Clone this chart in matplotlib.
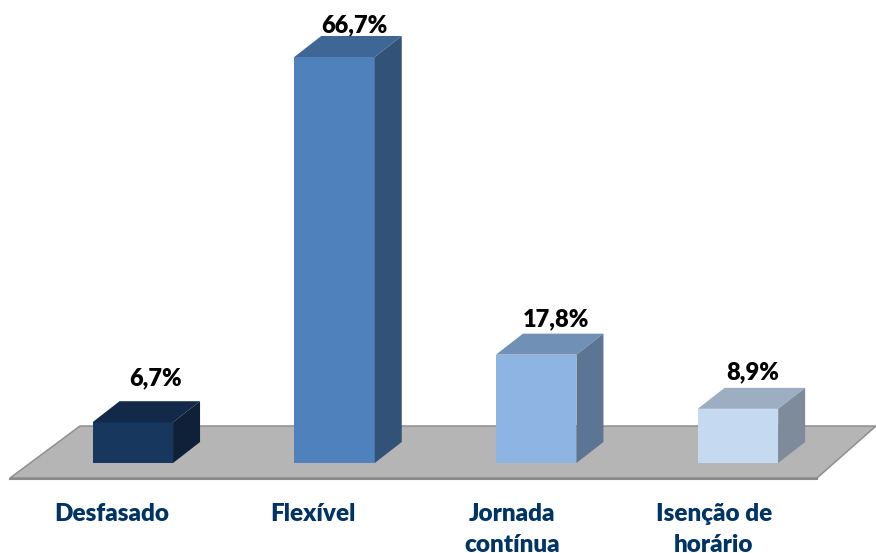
import matplotlib
matplotlib.use("Agg")
import matplotlib.pyplot as plt
from matplotlib.patches import Polygon

categories = ["Desfasado", "Flexível", "Jornada\ncontínua", "Isenção de\nhorário"]
values = [6.7, 66.7, 17.8, 8.9]
value_labels = ["6,7%", "66,7%", "17,8%", "8,9%"]

FRONT = ["#17375E", "#4F81BD", "#8DB4E2", "#C5D9F1"]
TOP = ["#12294A", "#3F6795", "#7190B5", "#9DADC2"]
SIDE = ["#0F2138", "#325278", "#5C7594", "#7E8B9A"]
LABEL_SHIFT = [23, 19.5, 20, 15]
LABEL_RISE = [7, -5, -2, 0]
TICK_SHIFT = [-21.5, -22, -24, -24]

W, H = 876, 553
DPI = 100
PX_X = 201.7  # pixels per category
PX_Y = 6.087  # pixels per percent
X0, Y0 = 132.8, 463

plt.rcParams["font.family"] = ["Lato", "DejaVu Sans"]

fig = plt.figure(figsize=(W / DPI, H / DPI), dpi=DPI)
ax = fig.add_axes([0, 0, 1, 1])
ax.set_xlim(-X0 / PX_X, (W - X0) / PX_X)
ax.set_ylim(-(H - Y0) / PX_Y, Y0 / PX_Y)
ax.axis("off")

bar_w = 80.5 / PX_X
dx = 27 / PX_X
dy = 21 / PX_Y


def to_data(px, py):
  return ((px - X0) / PX_X, (Y0 - py) / PX_Y)


# floor
floor = Polygon([to_data(10, 478), to_data(80, 426), to_data(876, 426), to_data(817, 478)],
                closed=True, facecolor="#B5B5B5", edgecolor="#8F8F8F", lw=1.1, zorder=1)
ax.add_patch(floor)
ax.plot(*zip(to_data(10, 478.5), to_data(817, 478.5)), color="#8A8A8A", lw=1.5, zorder=1.5)

for i, v in enumerate(values):
  left = i - bar_w / 2
  right = i + bar_w / 2
  ax.bar(i, v, width=bar_w, color=FRONT[i], edgecolor="none", zorder=3)
  top = Polygon([(left, v), (right, v), (right + dx, v + dy), (left + dx, v + dy)],
                closed=True, facecolor=TOP[i], edgecolor="none", zorder=3)
  side = Polygon([(right, 0), (right + dx, dy), (right + dx, v + dy), (right, v)],
                 closed=True, facecolor=SIDE[i], edgecolor="none", zorder=3)
  ax.add_patch(top)
  ax.add_patch(side)
  # value label, just over the back edge
  ax.annotate(value_labels[i], xy=(i, v + dy),
              xytext=(LABEL_SHIFT[i] * 72 / DPI, (5 + LABEL_RISE[i]) * 72 / DPI),
              textcoords="offset points", ha="center", va="bottom",
              fontsize=17, fontweight="heavy", color="black", zorder=4)
  # category label, sits below the floor
  ax.annotate(categories[i], xy=(i, 0), xytext=(TICK_SHIFT[i] * 72 / DPI, -40 * 72 / DPI),
              textcoords="offset points", ha="center", va="top", linespacing=1.5,
              fontsize=17.5, fontweight="heavy", color="#003366", annotation_clip=False, zorder=4)

fig.savefig("out.png", dpi=DPI)
